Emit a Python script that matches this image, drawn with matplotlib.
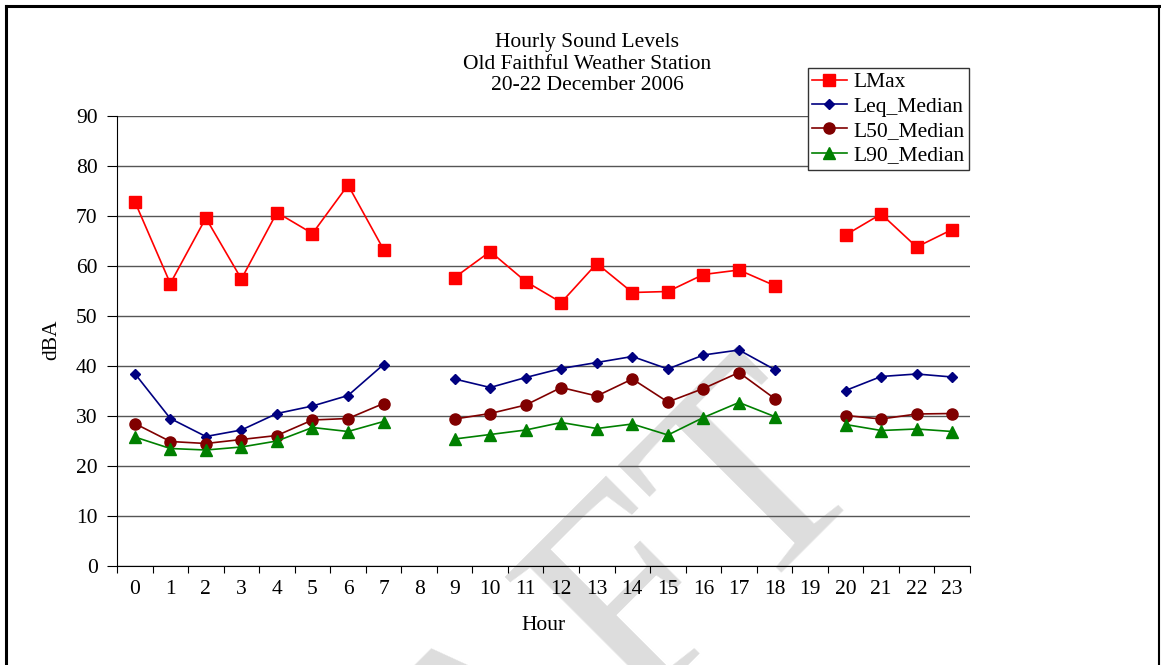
import numpy as np
import matplotlib.pyplot as plt
from matplotlib.lines import Line2D

plt.rcParams['font.family'] = ['Liberation Serif', 'DejaVu Serif']

hours = list(range(24))
nan = np.nan

# hours 8 and 19 have no data
lmax = [72.9, 56.5, 69.6, 57.4, 70.7, 66.5, 76.2, 63.3, nan,
        57.7, 62.9, 56.9, 52.7, 60.5, 54.7, 54.9, 58.3, 59.2, 56.1, nan,
        66.2, 70.4, 63.8, 67.3]
leq = [38.5, 29.5, 25.9, 27.2, 30.5, 32.0, 34.1, 40.3, nan,
       37.4, 35.7, 37.7, 39.5, 40.7, 41.9, 39.4, 42.2, 43.2, 39.3, nan,
       35.1, 37.9, 38.4, 37.8]
l50 = [28.5, 24.9, 24.5, 25.3, 26.1, 29.2, 29.5, 32.5, nan,
       29.4, 30.5, 32.2, 35.7, 34.0, 37.4, 32.8, 35.5, 38.7, 33.5, nan,
       30.1, 29.4, 30.4, 30.5]
l90 = [25.8, 23.5, 23.2, 23.8, 25.0, 27.7, 26.9, 28.9, nan,
       25.4, 26.3, 27.2, 28.7, 27.5, 28.4, 26.2, 29.7, 32.7, 29.9, nan,
       28.3, 27.1, 27.4, 26.9]

W, H = 1161, 665
FS = 15.5
fig = plt.figure(figsize=(W / 100, H / 100), dpi=100)

# watermark, sits behind everything
fig.text(874 / W, 1 - 472 / H, 'DRAFT', rotation=45, rotation_mode='anchor',
         ha='right', va='baseline', fontsize=210, color='#dddddd', zorder=-5)

ax = fig.add_axes([117 / W, 1 - 566 / H, (970 - 117) / W, (566 - 116) / H])
ax.set_facecolor('none')

ax.plot(hours, lmax, color='#FF0000', marker='s', ms=8, lw=1.2, label='LMax', zorder=5)
ax.plot(hours, leq, color='#000080', marker='D', ms=5.5, lw=1.2, label='Leq_Median', zorder=5)
ax.plot(hours, l50, color='#800000', marker='o', ms=8, lw=1.2, label='L50_Median', zorder=5)
ax.plot(hours, l90, color='#008000', marker='^', ms=8, lw=1.2, label='L90_Median', zorder=5)

ax.set_xlim(-0.5, 23.5)
ax.set_ylim(0, 90)
ax.set_yticks(range(0, 91, 10))
ax.yaxis.grid(True, color='#555555', lw=1)
ax.set_axisbelow(True)

# ticks between categories, labels centred on them
ax.set_xticks(np.arange(-0.5, 24, 1))
ax.set_xticklabels([])
ax.set_xticks(hours, minor=True)
ax.set_xticklabels([str(h) for h in hours], minor=True, fontsize=FS)
ax.tick_params(axis='x', which='minor', length=0, pad=10)
ax.tick_params(axis='x', which='major', length=5, direction='out', color='black')
ax.tick_params(axis='y', length=7, direction='out', labelsize=FS, pad=7)

for s in ['top', 'right']:
    ax.spines[s].set_visible(False)
ax.spines['left'].set_color('black')
ax.spines['bottom'].set_color('black')

fig.text(52 / W, 1 - 340 / H, 'dBA', rotation=90, ha='center', va='center', fontsize=FS)
fig.text(543 / W, 1 - 625 / H, 'Hour', ha='center', va='center', fontsize=FS)

for i, t in enumerate(['Hourly Sound Levels', 'Old Faithful Weather Station', '20-22 December 2006']):
    fig.text(587 / W, 1 - (43 + 21.5 * i) / H, t, ha='center', va='center', fontsize=FS)

leg = ax.legend(loc='upper left', bbox_to_anchor=(0.81, 1.107), borderaxespad=0, fontsize=FS,
                frameon=True, fancybox=False, edgecolor='#333333', framealpha=1,
                handlelength=1.6, borderpad=0.2, labelspacing=0.2, handletextpad=0.3)
leg.get_frame().set_linewidth(1)
leg.set_zorder(10)

# page border
fig.add_artist(Line2D([6 / W, 6 / W], [0, 1 - 6 / H], color='black', lw=2.2))
fig.add_artist(Line2D([6 / W, 1159 / W], [1 - 6 / H, 1 - 6 / H], color='black', lw=2.2))
fig.add_artist(Line2D([1159 / W, 1159 / W], [0, 1 - 6 / H], color='black', lw=1.5))

fig.savefig('out.png', dpi=100)
